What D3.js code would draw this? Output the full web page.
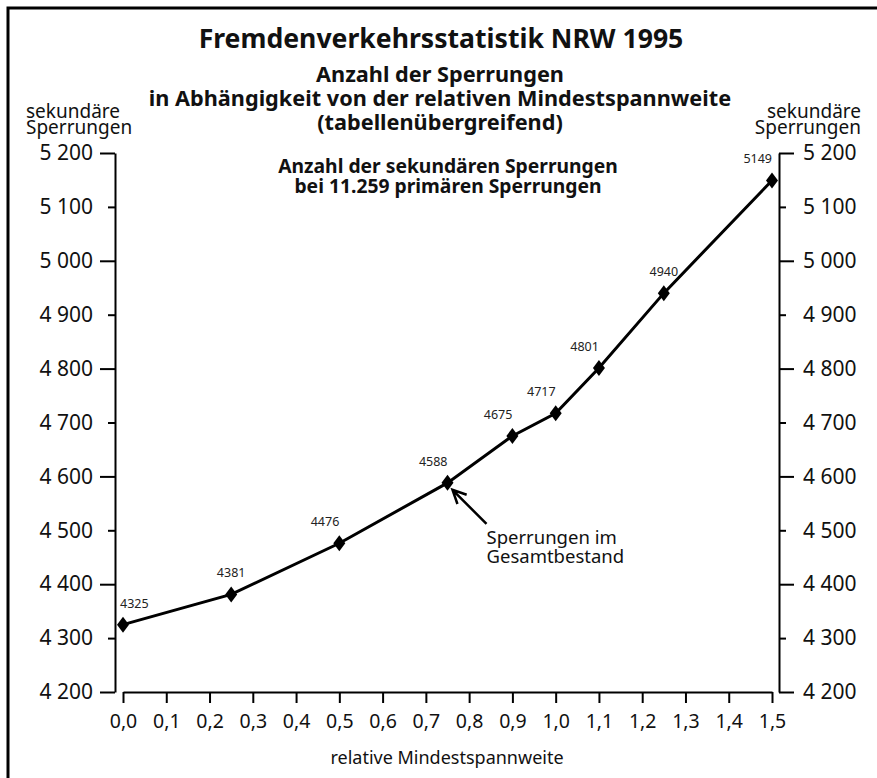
<!DOCTYPE html>
<html>
<head>
<meta charset="utf-8">
<script src="https://cdn.jsdelivr.net/npm/d3@7/dist/d3.min.js"></script>
<style>
  body { margin: 0; background: #fff; }
  svg { display: block; font-family: "Noto Sans", sans-serif; }
</style>
</head>
<body>
<svg id="chart" width="877" height="778"></svg>
<script>
// data
const spannweite = [0, 0.25, 0.5, 0.75, 0.9, 1.0, 1.1, 1.25, 1.5]
const sperrungen = [4325, 4381, 4476, 4588, 4675, 4717, 4801, 4940, 5149]
const labelAnchor = ['start', 'middle', 'end', 'end', 'end', 'end', 'end', 'middle', 'end']
const xTicks = [0, 0.1, 0.2, 0.3, 0.4, 0.5, 0.6, 0.7, 0.8, 0.9, 1.0, 1.1, 1.2, 1.3, 1.4, 1.5]
const yTicks = [4200, 4300, 4400, 4500, 4600, 4700, 4800, 4900, 5000, 5100, 5200]

const titleLines = ['Anzahl der Sperrungen', 'in Abhängigkeit von der relativen Mindestspannweite', '(tabellenübergreifend)']
const innerTitle = ['Anzahl der sekundären Sperrungen', 'bei 11.259 primären Sperrungen']
const axisTitle = ['sekundäre', 'Sperrungen']
const annotation = ['Sperrungen im', 'Gesamtbestand']

const svg = d3.select('#chart')

const de = d3.formatLocale({ decimal: ',', thousands: ' ', grouping: [3], currency: ['', ''] })
const yFmt = de.format(',d')
const xFmt = de.format('.1f')

const x = d3.scaleLinear().domain([0, 1.5]).range([123, 772])
const y = d3.scaleLinear().domain([4200, 5200]).range([692, 153])

// multi-line text as one <text> with tspans
function multiline(lines, xPos, yPos, step, opts) {
    const t = svg.append('text')
        .attr('x', xPos).attr('y', yPos)
        .attr('text-anchor', opts.anchor || 'start')
        .attr('font-size', opts.size)
        .attr('font-weight', opts.weight || 'normal')
        .attr('fill', '#111')
    t.selectAll('tspan')
        .data(lines)
        .join('tspan')
        .attr('x', xPos)
        .attr('dy', (d, i) => i === 0 ? 0 : step)
        .text(d => d)
    return t
}

// frame
svg.append('rect')
    .attr('x', 8).attr('y', 8)
    .attr('width', 900).attr('height', 800)
    .attr('fill', 'none')
    .attr('stroke', '#000')
    .attr('stroke-width', 3)

// titles
svg.append('text')
    .attr('x', 441).attr('y', 48)
    .attr('text-anchor', 'middle')
    .attr('font-size', 26.6).attr('font-weight', 'bold')
    .attr('fill', '#111')
    .text('Fremdenverkehrsstatistik NRW 1995')

multiline(titleLines, 440, 82, 24, { anchor: 'middle', size: 21.7, weight: 'bold' })
multiline(innerTitle, 448, 173, 20, { anchor: 'middle', size: 19.3, weight: 'bold' })

// y axis titles (left + right)
multiline(axisTitle, 26, 118, 16, { size: 19 })
multiline(axisTitle, 861, 118, 16, { anchor: 'end', size: 19 })

// axes
const isMajor = v => (v - 4200) % 200 === 0

const gLeft = svg.append('g')
    .attr('transform', `translate(${115},0)`)
    .call(d3.axisLeft(y).tickValues(yTicks).tickFormat(yFmt).tickSize(15).tickSizeOuter(0).tickPadding(7))
gLeft.selectAll('.tick line').attr('x2', d => isMajor(d) ? -15 : -7)

const gRight = svg.append('g')
    .attr('transform', `translate(${779},0)`)
    .call(d3.axisRight(y).tickValues(yTicks).tickFormat(yFmt).tickSize(15).tickSizeOuter(0).tickPadding(9))
gRight.selectAll('.tick line').attr('x2', d => isMajor(d) ? 15 : 7)

const gBottom = svg.append('g')
    .attr('transform', `translate(0,${692})`)
    .call(d3.axisBottom(x).tickValues(xTicks).tickFormat(xFmt).tickSize(11).tickSizeOuter(0).tickPadding(11))

for (const g of [gLeft, gRight, gBottom]) {
    g.selectAll('.domain, .tick line').attr('stroke', '#000').attr('stroke-width', 2)
    g.selectAll('text').attr('fill', '#111').attr('font-family', '"Noto Sans", sans-serif')
}
gLeft.selectAll('text').attr('font-size', 21)
gRight.selectAll('text').attr('font-size', 21)
gBottom.selectAll('text').attr('font-size', 19.5)

svg.append('text')
    .attr('x', 447).attr('y', 764)
    .attr('text-anchor', 'middle')
    .attr('font-size', 18)
    .attr('fill', '#111')
    .text('relative Mindestspannweite')

// line + markers
const pts = spannweite.map((v, i) => [v, sperrungen[i]])

svg.append('path')
    .datum(pts)
    .attr('fill', 'none')
    .attr('stroke', '#000')
    .attr('stroke-width', 3)
    .attr('d', d3.line().x(d => x(d[0])).y(d => y(d[1])))

svg.selectAll('.mk')
    .data(pts)
    .join('path')
    .attr('class', 'mk')
    .attr('d', d => {
        const cx = x(d[0]), cy = y(d[1])
        return `M${cx},${cy - 8}L${cx + 6},${cy}L${cx},${cy + 8}L${cx - 6},${cy}Z`
    })
    .attr('fill', '#000')

svg.selectAll('.vl')
    .data(pts)
    .join('text')
    .attr('class', 'vl')
    .attr('x', (d, i) => x(d[0]) + (labelAnchor[i] === 'start' ? -3 : 0))
    .attr('y', d => y(d[1]) - 17)
    .attr('text-anchor', (d, i) => labelAnchor[i])
    .attr('font-size', 12.5)
    .attr('fill', '#222')
    .text(d => d[1])

// annotation
const ax = x(0.75), ay = y(4588)
const tip = [ax + 5, ay + 7], tail = [ax + 39, ay + 41]
const ang = Math.atan2(tail[1] - tip[1], tail[0] - tip[0])
const arm = a => [tip[0] + 15 * Math.cos(ang + a), tip[1] + 15 * Math.sin(ang + a)]
svg.append('path')
    .attr('d', `M${tail}L${tip}M${arm(0.45)}L${tip}L${arm(-0.45)}`)
    .attr('fill', 'none')
    .attr('stroke', '#000')
    .attr('stroke-width', 2.5)

multiline(annotation, ax + 39, ay + 61, 19, { size: 18.5 })
</script>
</body>
</html>
